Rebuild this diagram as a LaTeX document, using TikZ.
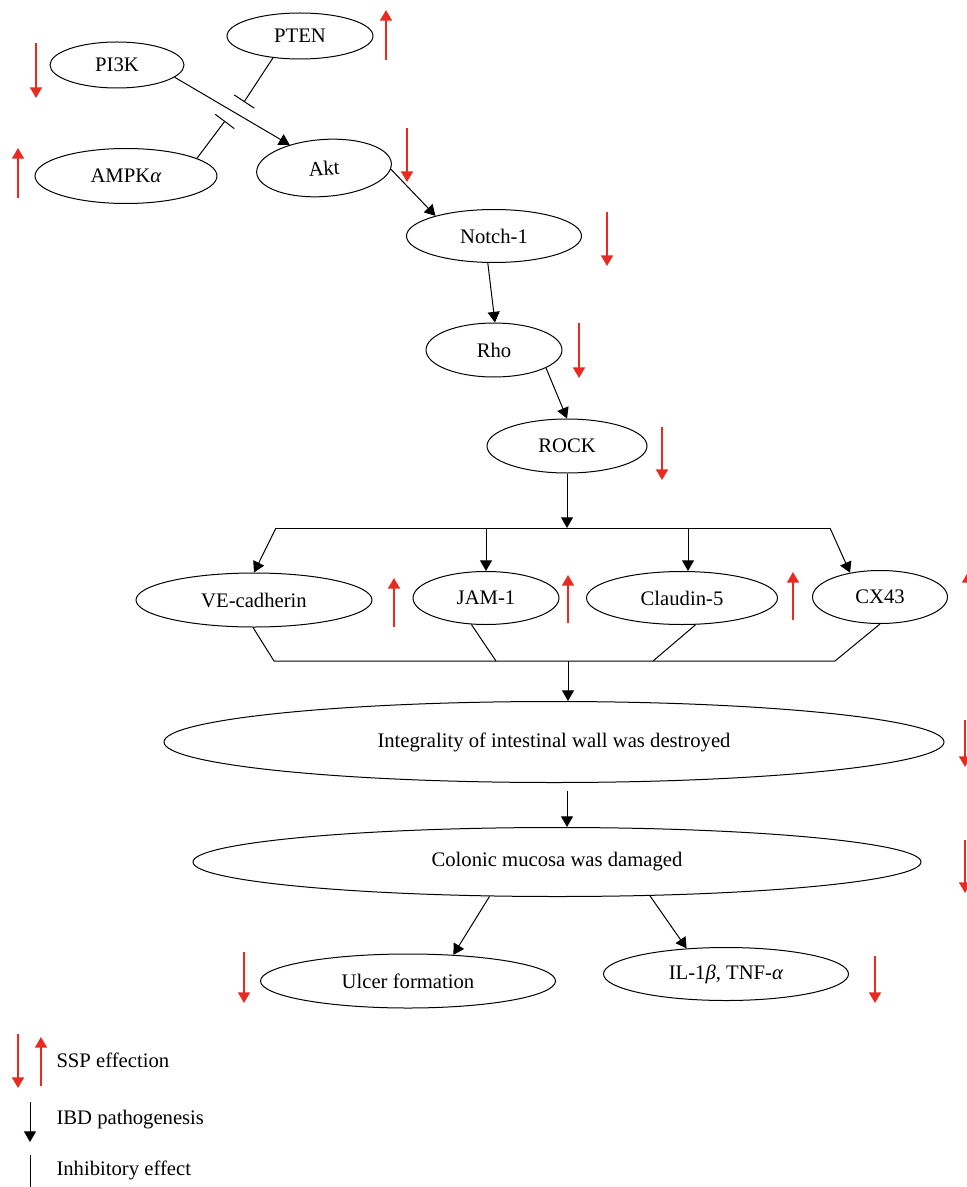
\documentclass[tikz,border=0pt]{standalone}
\usepackage{fontspec}
\setmainfont{Liberation Serif}
\usetikzlibrary{shapes.geometric,arrows.meta}
\definecolor{sspred}{RGB}{232,42,32}

\tikzset{every picture/.style={line width=0.75pt}}
\tikzset{
ell/.style={draw, ellipse, inner sep=0pt},
ibd/.style={-{Triangle[length=8pt,width=9pt]}},
inhib/.style={-{Bar[width=18pt]}},
ssp/.style={draw=sspred, line width=1.1pt, -{Triangle[length=8pt,width=9pt]}}}

\begin{document}
\begin{tikzpicture}[x=0.75pt,y=0.75pt,yscale=-1,xscale=1,font=\fontsize{15.5}{18}\selectfont]
\useasboundingbox (0,0) rectangle (966,1187);

%Shape: Ellipse
\draw (300,36) node [ell, minimum width=109.5pt, minimum height=34.5pt] (pten) {PTEN};
%Shape: Ellipse
\draw (117,65) node [ell, minimum width=100.5pt, minimum height=34.5pt] (pikk) {PI3K};
%Shape: Ellipse
\draw (126,176) node [ell, minimum width=136.5pt, minimum height=41.25pt] (ampk) {AMPK\textit{α}};
%Shape: Ellipse
\draw (324,168) node [ell, rotate=4, minimum width=101.25pt, minimum height=42.75pt] (akt) {Akt};
%Shape: Ellipse
\draw (494,236) node [ell, minimum width=131.25pt, minimum height=39.75pt] (notch) {Notch-1};
%Shape: Ellipse
\draw (494,350) node [ell, minimum width=102pt, minimum height=40.5pt] (rho) {Rho};
%Shape: Ellipse
\draw (567,446) node [ell, minimum width=120pt, minimum height=40.5pt] (rock) {ROCK};
%Shape: Ellipse
\draw (254,600) node [ell, minimum width=177pt, minimum height=40.5pt] (vecad) {VE-cadherin};
%Shape: Ellipse
\draw (486,598) node [ell, minimum width=109.5pt, minimum height=39.75pt] (jam) {JAM-1};
%Shape: Ellipse
\draw (682,598) node [ell, minimum width=143.25pt, minimum height=39.75pt] (claudin) {Claudin-5};
%Shape: Ellipse
\draw (880,597) node [ell, minimum width=101.25pt, minimum height=39.75pt] (cx) {CX43};
%Shape: Ellipse
\draw (554,742) node [ell, minimum width=585pt, minimum height=60.75pt] (integ) {Integrality of intestinal wall was destroyed};
%Shape: Ellipse
\draw (557,862) node [ell, minimum width=546pt, minimum height=51.75pt] (colon) {Colonic mucosa was damaged};
%Shape: Ellipse
\draw (408,981) node [ell, minimum width=221.25pt, minimum height=40.5pt] (ulcer) {Ulcer formation};
%Shape: Ellipse
\draw (726,974) node [ell, minimum width=183.75pt, minimum height=39.75pt] (il) {IL-1\textit{β}, TNF-\textit{α}};

%Straight Lines
\coordinate (ptenbar) at (244,102);
\coordinate (ampkbar) at (225,121);
\draw [ibd] (pikk.-12) -- (akt.142);
\draw [inhib] (pten.-141) -- (ptenbar);
\draw [inhib] (ampk.14) -- (ampkbar);
\draw [ibd] (akt.-5) -- (notch.161);
\draw [ibd] (notch.-103) -- (rho.88);
\draw [ibd] (rho.-19) -- (rock.north);

%Straight Lines
\coordinate (split) at (567,528);
\coordinate (ltop) at (276,528);
\coordinate (jamtop) at (486,528);
\coordinate (cltop) at (688,528);
\coordinate (rtop) at (830,528);
\draw [ibd] (rock.south) -- (split);
\draw (ltop) -- (rtop);
\draw [ibd] (ltop) -- (vecad.north);
\draw [ibd] (jamtop) -- (jamtop |- jam.north);
\draw [ibd] (cltop) -- (cltop |- claudin.north);
\draw [ibd] (rtop) -- (cx.141);

%Straight Lines
\coordinate (lbot) at (274,661);
\coordinate (jambot) at (496,661);
\coordinate (merge) at (568,661);
\coordinate (clbot) at (653,661);
\coordinate (rbot) at (835,661);
\draw (vecad.-92) -- (lbot) -- (rbot) -- (cx.south);
\draw (jam.-119) -- (jambot);
\draw (claudin.-63) -- (clbot);
\draw [ibd] (merge) -- (merge |- integ.north);

%Straight Lines
\coordinate (colin) at (567,791);
\draw [ibd] (colin) -- (colin |- colon.north);
\draw [ibd] (colon.-153) -- (ulcer.30);
\draw [ibd] (colon.-20) -- (il.147);

%Red Arrows
\draw [ssp] (36,43) -- (36,98);
\draw [ssp] (386,60) -- (386,10);
\draw [ssp] (18,198) -- (18,148);
\draw [ssp] (407,128) -- (407,182);
\draw [ssp] (607,212) -- (607,266);
\draw [ssp] (579,323) -- (579,378);
\draw [ssp] (662,427) -- (662,480);
\draw [ssp] (394,627) -- (394,578);
\draw [ssp] (568,623) -- (568,575);
\draw [ssp] (793,620) -- (793,572);
\draw [ssp] (968,620) -- (968,572);
\draw [ssp] (965,720) -- (965,767);
\draw [ssp] (965,840) -- (965,893);
\draw [ssp] (244,952) -- (244,1003);
\draw [ssp] (875,956) -- (875,1003);

%Legend
\draw [ssp] (18,1034) -- (18,1088);
\draw [ssp] (41,1086) -- (41,1037);
\draw [ibd] (30,1102) -- (30,1142);
\draw (30,1155) -- (30,1192);
% Text Node
\draw (55,1060) node [anchor=west][inner sep=0.75pt] (lgssp) {SSP effection};
% Text Node
\draw (55,1120) node [anchor=west][inner sep=0.75pt] (lgibd) {IBD pathogenesis};
% Text Node
\draw (55,1170) node [anchor=west][inner sep=0.75pt] (lginh) {Inhibitory effect};

\end{tikzpicture}
\end{document}
